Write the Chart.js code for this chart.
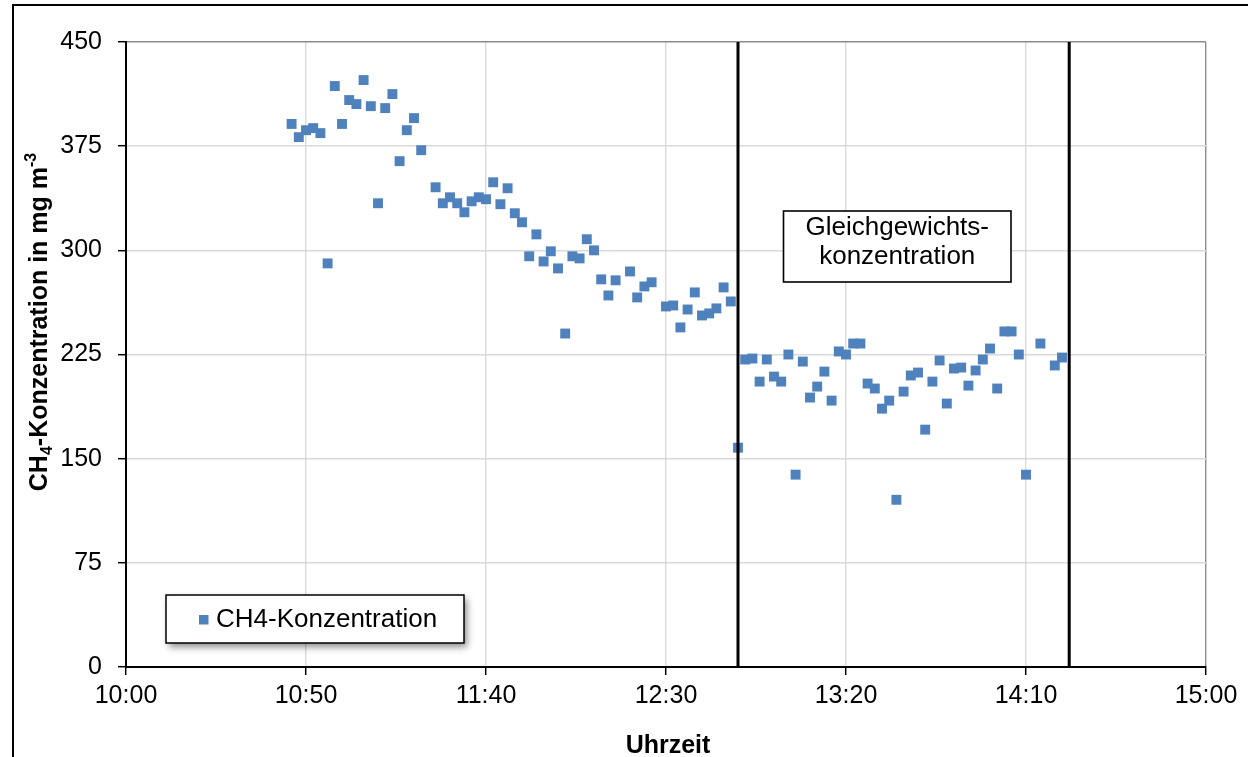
<!DOCTYPE html>
<html><head><meta charset="utf-8">
<script src="https://cdn.jsdelivr.net/npm/chart.js@4.4.0/dist/chart.umd.min.js"></script>
<style>html,body{margin:0;padding:0;background:#fff;}#wrap{width:1248px;height:757px;position:relative;}</style>
</head><body><div id="wrap"><canvas id="c" width="1248" height="757"></canvas></div>
<script>
const seriesName = 'CH4-Konzentration';
const times = ['10:46','10:48','10:50','10:52','10:54','10:56','10:58','11:00','11:02','11:04','11:06','11:08','11:10','11:12','11:14','11:16','11:18','11:20','11:22',
  '11:26','11:28','11:30','11:32','11:34','11:36','11:38','11:40','11:42','11:44','11:46','11:48','11:50','11:52','11:54','11:56','11:58','12:00','12:02','12:04','12:06','12:08','12:10','12:12','12:14','12:16',
  '12:20','12:22','12:24','12:26','12:30','12:32','12:34','12:36','12:38','12:40','12:42','12:44','12:46','12:48','12:50','12:52','12:54','12:56','12:58','13:00','13:02','13:04','13:06','13:08','13:10',
  '13:12','13:14','13:16','13:18','13:20','13:22','13:24','13:26','13:28','13:30','13:32','13:34','13:36','13:38','13:40','13:42','13:44','13:46','13:48','13:50','13:52','13:54','13:56','13:58','14:00',
  '14:02','14:04','14:06','14:08','14:10','14:14','14:18','14:20'];
const ch4 = [391,381.5,386.5,388,384.4,290.6,418.3,391,408.2,405.3,422.6,403.8,333.9,402.4,412.5,364.2,386.5,395.2,372.1,
  345.4,333.9,338.2,333.9,327.4,335.3,338.2,336.8,349,333.2,344.7,326.7,320.2,295.7,311.5,292,299.3,287,240.1,295.7,294.2,308,300,279.1,267.5,278.4,
  284.8,266.1,274,277,259.6,260.3,244.5,257.4,269.7,253.1,254.6,258.2,273.3,263.2,157.9,221.4,222.1,205.5,221.4,209.1,205.5,225,138.5,219.9,194,
  201.9,212.7,191.8,227.2,225,232.9,232.9,204.1,200.5,186,191.8,120.4,198.3,209.9,212,170.9,205.5,220.7,189.7,214.9,215.6,202.6,213.5,221.4,229.3,
  200.5,241.6,241.6,225,138.5,232.9,217.1,222.8];
const xTickLabels = ['10:00','10:50','11:40','12:30','13:20','14:10','15:00'];
const yTickValues = [0,75,150,225,300,375,450];
const phaseBounds = ['12:50','14:22'];
const phaseLabel = ['Gleichgewichts-','konzentration'];
const xTitle = 'Uhrzeit';
const yTitleParts = [['CH',0],['4',1],['-Konzentration in mg m',0],['-3',-1]];

const FONT = '"Liberation Sans", Arial, sans-serif';
const BLUE = '#4F81BD';
const toMin = s => { const [h,m] = s.split(':').map(Number); return h*60 + m - 600; };
const fmt = v => { const t = v + 600; const h = Math.floor(t/60), m = Math.round(t%60); return h + ':' + String(m).padStart(2,'0'); };
const yMax = yTickValues[yTickValues.length-1];
const xMin = toMin(xTickLabels[0]), xMax = toMin(xTickLabels[xTickLabels.length-1]);

const lineSets = phaseBounds.map(t => ({
  label: 'bound ' + t,
  data: [{x: toMin(t), y: yTickValues[0]}, {x: toMin(t), y: yMax}],
  showLine: true, borderColor: '#000', borderWidth: 3, pointRadius: 0, pointHoverRadius: 0
}));

const deco = {
  id: 'deco',
  beforeDraw(chart) {
    const ctx = chart.ctx;
    ctx.save();
    ctx.fillStyle = '#fff';
    ctx.fillRect(0, 0, chart.width, chart.height);
    ctx.strokeStyle = '#000'; ctx.lineWidth = 2;
    ctx.beginPath();
    ctx.moveTo(13, 760); ctx.lineTo(13, 5); ctx.lineTo(1260, 5);
    ctx.stroke();
    ctx.restore();
  },
  afterDraw(chart) {
    const ctx = chart.ctx;
    const ca = chart.chartArea;
    ctx.save();
    ctx.fillStyle = '#000';
    ctx.font = 'bold 25px ' + FONT;
    ctx.textAlign = 'center'; ctx.textBaseline = 'middle';
    ctx.fillText(xTitle, (ca.left + ca.right) / 2 + 2, 746);
    ctx.save();
    ctx.translate(38, 322);
    ctx.rotate(-Math.PI / 2);
    ctx.textAlign = 'left'; ctx.textBaseline = 'alphabetic';
    const big = 'bold 25px ' + FONT, small = 'bold 16px ' + FONT;
    let total = 0;
    const widths = yTitleParts.map(([t, k]) => { ctx.font = k ? small : big; const w = ctx.measureText(t).width; total += w; return w; });
    let x = -total / 2;
    yTitleParts.forEach(([t, k], i) => {
      ctx.font = k ? small : big;
      const dy = k === 1 ? 14 : (k === -1 ? -2 : 9);
      ctx.fillText(t, x, dy);
      x += widths[i];
    });
    ctx.restore();
    const ds = chart.data.datasets.find(d => d.label === seriesName);
    const lx = 166, ly = 595, lw = 298, lh = 48;
    ctx.save();
    ctx.shadowColor = 'rgba(0,0,0,0.45)'; ctx.shadowBlur = 7; ctx.shadowOffsetX = 3; ctx.shadowOffsetY = 4;
    ctx.fillStyle = '#fff'; ctx.fillRect(lx, ly, lw, lh);
    ctx.restore();
    ctx.strokeStyle = '#000'; ctx.lineWidth = 1.5;
    ctx.strokeRect(lx, ly, lw, lh);
    ctx.fillStyle = ds.backgroundColor;
    ctx.fillRect(199, 615, 9.5, 9.5);
    ctx.fillStyle = '#000';
    ctx.font = '26px ' + FONT;
    ctx.textAlign = 'left'; ctx.textBaseline = 'middle';
    ctx.fillText(ds.label, 216, 620);
    const ax = 783.5, ay = 211, aw = 227.5, ah = 71;
    ctx.fillStyle = '#fff'; ctx.fillRect(ax, ay, aw, ah);
    ctx.strokeStyle = '#000'; ctx.lineWidth = 1.6; ctx.strokeRect(ax, ay, aw, ah);
    ctx.fillStyle = '#000';
    ctx.textAlign = 'center'; ctx.textBaseline = 'middle';
    ctx.fillText(phaseLabel[0], ax + aw / 2, 228);
    ctx.fillText(phaseLabel[1], ax + aw / 2, 257);
    ctx.restore();
  }
};

new Chart(document.getElementById('c'), {
  type: 'scatter',
  data: {
    datasets: [
      ...lineSets,
      {
        label: seriesName,
        data: times.map((t, i) => ({x: toMin(t), y: ch4[i]})),
        backgroundColor: BLUE, borderColor: BLUE, borderWidth: 0,
        pointStyle: 'rect', pointRadius: 7, pointHoverRadius: 7
      }
    ]
  },
  plugins: [deco],
  options: {
    responsive: false, animation: false, devicePixelRatio: 1,
    layout: { padding: { top: 42, right: 42, left: 0, bottom: 0 } },
    plugins: { legend: { display: false }, tooltip: { enabled: false } },
    scales: {
      x: {
        type: 'linear', min: xMin, max: xMax,
        afterBuildTicks: s => { s.ticks = xTickLabels.map(t => ({ value: toMin(t) })); },
        afterFit: s => { s.height = 90; },
        ticks: { callback: v => fmt(v), font: { family: FONT, size: 25 }, color: '#000', padding: 6, maxRotation: 0, autoSkip: false },
        grid: { color: c => (c.tick && c.tick.value === xMax) ? '#8c8c8c' : '#d9d9d9', lineWidth: 1.4, tickColor: '#000', tickLength: 8, tickWidth: 1.5 },
        border: { color: '#000', width: 2 }
      },
      y: {
        min: yTickValues[0], max: yMax,
        afterBuildTicks: s => { s.ticks = yTickValues.map(v => ({ value: v })); },
        afterFit: s => { s.width = 126; },
        ticks: { font: { family: FONT, size: 25 }, color: '#000', padding: 16, autoSkip: false },
        grid: { color: c => (c.tick && c.tick.value === yMax) ? '#8c8c8c' : '#d9d9d9', lineWidth: 1.4, tickColor: '#000', tickLength: 8, tickWidth: 1.5 },
        border: { color: '#000', width: 2 }
      }
    }
  }
});
</script></body></html>
